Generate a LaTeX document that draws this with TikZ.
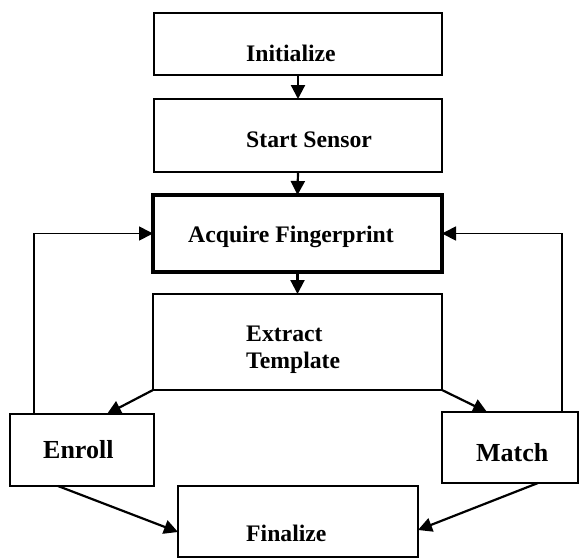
\documentclass[tikz,border=0pt]{standalone}
\usepackage{fontspec}
\setmainfont{Liberation Serif}
\usetikzlibrary{arrows.meta,calc}
\begin{document}
\begin{tikzpicture}[x=1pt,y=-1pt,
  box/.style={draw, line width=1.6pt, inner sep=0pt, outer sep=0pt, anchor=north west},
  thickbox/.style={box, line width=3.6pt},
  txt/.style={anchor=base west, inner sep=0pt, font=\bfseries\fontsize{23.7}{27}\selectfont},
  bigtxt/.style={anchor=base west, inner sep=0pt, font=\bfseries\fontsize{26}{30}\selectfont},
  arr/.style={line width=2.2pt, -{Triangle[length=14pt,width=14pt]}},
  loopline/.style={line width=1.8pt, -{Triangle[length=14pt,width=14pt]}}
]
\useasboundingbox (0,0) rectangle (579,558);
% boxes
\node[box, minimum width=288pt, minimum height=62pt] (init) at (154,13) {};
\node[box, minimum width=288pt, minimum height=73pt] (start) at (154,99) {};
\node[thickbox, minimum width=289pt, minimum height=77pt] (acq) at (153,195) {};
\node[box, minimum width=289pt, minimum height=96pt] (ext) at (153,294) {};
\node[box, minimum width=144pt, minimum height=72pt] (enroll) at (10,414) {};
\node[box, minimum width=136pt, minimum height=71pt] (match) at (442,412) {};
\node[box, minimum width=240pt, minimum height=71pt] (fin) at (178,486) {};
% texts
\node[txt] (tinit) at (246,61) {Initialize};
\node[txt] (tstart) at (246,147) {Start Sensor};
\node[txt] (tacq) at (188,242) {Acquire Fingerprint};
\node[txt] (text1) at (246,341) {Extract};
\node[txt] (text2) at (246,368) {Template};
\node[bigtxt] (tenroll) at (43,458) {Enroll};
\node[bigtxt] (tmatch) at (476,461) {Match};
\node[txt] (tfin) at (246,541) {Finalize};
% connectors
\draw[arr] (init.south) -- (start.north);
\draw[arr] (start.south) -- (acq.north);
\draw[arr] (acq.south) -- (ext.north);
\draw[arr] (ext.south west) -- ([xshift=97pt]enroll.north west);
\draw[arr] (ext.south east) -- ([xshift=45pt]match.north west);
\draw[loopline] ([xshift=24pt]enroll.north west) |- (acq.west);
\draw[loopline] ([xshift=120pt]match.north west) |- (acq.east);
\draw[arr] ([xshift=48pt]enroll.south west) -- ([yshift=-46pt]fin.north west);
\draw[arr] ([xshift=96pt]match.south west) -- ([yshift=-44pt]fin.north east);
\end{tikzpicture}
\end{document}
